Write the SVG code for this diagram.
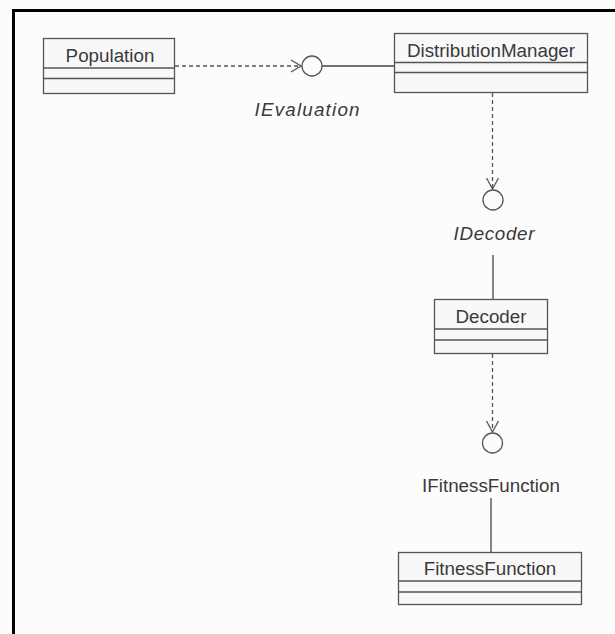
<svg xmlns="http://www.w3.org/2000/svg" width="615" height="634" viewBox="0 0 615 634">
<style>
.box{fill:#f8f8f8;stroke:#555;stroke-width:1.3}
.div{stroke:#555;stroke-width:1.3}
.lbl{font-family:"Liberation Sans",Arial,sans-serif;font-size:18.8px;fill:#3a3a3a;text-anchor:middle}
.it{font-style:italic}
.dash{stroke:#555;stroke-width:1.3;stroke-dasharray:4,3;fill:none}
.solid{stroke:#444;stroke-width:1.3;fill:none}
.iface{fill:#fcfcfc;stroke:#555;stroke-width:1.3}
.arr{stroke:#555;stroke-width:1.3;fill:none}
</style>
<rect x="0" y="0" width="615" height="634" fill="#fcfcfc"/>
<path d="M13.5 634 V10.5 H615" fill="none" stroke="#000" stroke-width="3"/>
<g id="connectors">
<line class="dash" x1="175" y1="66" x2="300" y2="66"/>
<path class="arr" d="M291 60 L301 66 L291 72"/>
<line class="solid" x1="322" y1="66" x2="394" y2="66"/>
<line class="dash" x1="492.5" y1="93" x2="492.5" y2="188"/>
<path class="arr" d="M486.5 178 L492.5 189 L498.5 178"/>
<line class="solid" x1="493" y1="255" x2="493" y2="299"/>
<line class="dash" x1="492.5" y1="354" x2="492.5" y2="431"/>
<path class="arr" d="M486.5 421 L492.5 432 L498.5 421"/>
<line class="solid" x1="491" y1="498" x2="491" y2="552"/>
</g>
<g id="Population">
<rect class="box" x="43.5" y="38.5" width="131" height="55"/>
<line class="div" x1="43.5" y1="68" x2="174.5" y2="68"/>
<line class="div" x1="43.5" y1="78.5" x2="174.5" y2="78.5"/>
<text class="lbl" x="110" y="62">Population</text>
</g>
<g id="IEvaluation">
<circle class="iface" cx="312" cy="66" r="10"/>
<text class="lbl it" x="307" y="116" textLength="105" lengthAdjust="spacing">IEvaluation</text>
</g>
<g id="DistributionManager">
<rect class="box" x="394.5" y="33.5" width="193" height="59"/>
<line class="div" x1="394.5" y1="62.5" x2="587.5" y2="62.5"/>
<line class="div" x1="394.5" y1="72.5" x2="587.5" y2="72.5"/>
<text class="lbl" x="491" y="57">DistributionManager</text>
</g>
<g id="IDecoder">
<circle class="iface" cx="493" cy="200" r="10"/>
<text class="lbl it" x="494" y="240" textLength="81" lengthAdjust="spacing">IDecoder</text>
</g>
<g id="Decoder">
<rect class="box" x="434.5" y="299.5" width="113" height="54"/>
<line class="div" x1="434.5" y1="329" x2="547.5" y2="329"/>
<line class="div" x1="434.5" y1="340" x2="547.5" y2="340"/>
<text class="lbl" x="491" y="323">Decoder</text>
</g>
<g id="IFitnessFunction">
<circle class="iface" cx="492.5" cy="443" r="10"/>
<text class="lbl" x="491" y="492">IFitnessFunction</text>
</g>
<g id="FitnessFunction">
<rect class="box" x="398.5" y="552.5" width="183" height="52"/>
<line class="div" x1="398.5" y1="581" x2="581.5" y2="581"/>
<line class="div" x1="398.5" y1="592" x2="581.5" y2="592"/>
<text class="lbl" x="490" y="575">FitnessFunction</text>
</g>
</svg>
